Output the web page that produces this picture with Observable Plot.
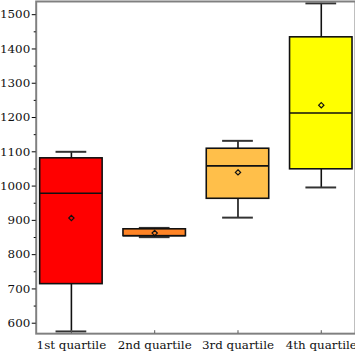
<!DOCTYPE html>
<html>
<head>
<meta charset="utf-8">
<script src="https://cdn.jsdelivr.net/npm/d3@7"></script>
<script src="https://cdn.jsdelivr.net/npm/@observablehq/plot@0.6"></script>
<style>
html, body { margin: 0; padding: 0; background: #fff; overflow: hidden; width: 355px; height: 355px; }
#chart svg { display: block; }
</style>
</head>
<body>
<div id="chart"></div>
<script>
const categories = ["1st quartile", "2nd quartile", "3rd quartile", "4th quartile"];
const lowValues = [576, 851, 908, 996];
const q1Values = [714, 854, 963, 1049];
const medianValues = [979, 855, 1059, 1213];
const q3Values = [1081, 874, 1109, 1434];
const highValues = [1100, 878, 1132, 1533];
const meanValues = [907, 863, 1040, 1236];
const boxColors = ["#ff0000", "#ff8426", "#ffbf4a", "#ffff00"];
const majorTicks = [600, 700, 800, 900, 1000, 1100, 1200, 1300, 1400, 1500];
const minorTicks = [650, 750, 850, 950, 1050, 1150, 1250, 1350, 1450];

const rows = categories.map((c, i) => ({
  cat: c, low: lowValues[i], q1: q1Values[i], med: medianValues[i],
  q3: q3Values[i], high: highValues[i], mean: meanValues[i], color: boxColors[i]
}));

const chart = Plot.plot({
  width: 358,
  height: 355,
  marginLeft: 36,
  marginRight: 0,
  marginTop: 1,
  marginBottom: 19,
  style: { fontFamily: "DejaVu Serif", fontSize: "12px", color: "#000", background: "#fff" },
  x: { type: "band", domain: categories, paddingInner: 0.25, paddingOuter: 0.04, label: null },
  y: { domain: [569.5, 1538.5], label: null },
  marks: [
    Plot.ruleX(rows, { x: "cat", y1: "low", y2: "q1", stroke: "#111", strokeWidth: 1.6 }),
    Plot.ruleX(rows, { x: "cat", y1: "q3", y2: "high", stroke: "#111", strokeWidth: 1.6 }),
    Plot.tickY(rows, { x: "cat", y: "low", stroke: "#333", strokeWidth: 2, insetLeft: 16, insetRight: 16 }),
    Plot.tickY(rows, { x: "cat", y: "high", stroke: "#333", strokeWidth: 2, insetLeft: 16, insetRight: 16 }),
    Plot.barY(rows, { x: "cat", y1: "q1", y2: "q3", fill: d => d.color, stroke: "#111", strokeWidth: 1.6 }),
    Plot.tickY(rows, { x: "cat", y: "med", stroke: "#111", strokeWidth: 1.6 }),
    Plot.dot(rows, { x: "cat", y: "mean", symbol: "diamond2", r: 2.4, stroke: "#111", strokeWidth: 1.2, fill: "none" }),
    Plot.frame({ stroke: "#808080", strokeWidth: 2 }),
    Plot.axisY(majorTicks, { anchor: "left", tickSize: 4, tickPadding: 2, tickFormat: d => String(d), stroke: "#000", fill: "#111" }),
    Plot.axisY(minorTicks, { anchor: "left", tickSize: 2, text: null, stroke: "#000" }),
    Plot.axisX({ anchor: "bottom", tickSize: -3, tickPadding: 10, stroke: "#555", fill: "#111" })
  ]
});
document.getElementById("chart").appendChild(chart);
</script>
</body>
</html>
